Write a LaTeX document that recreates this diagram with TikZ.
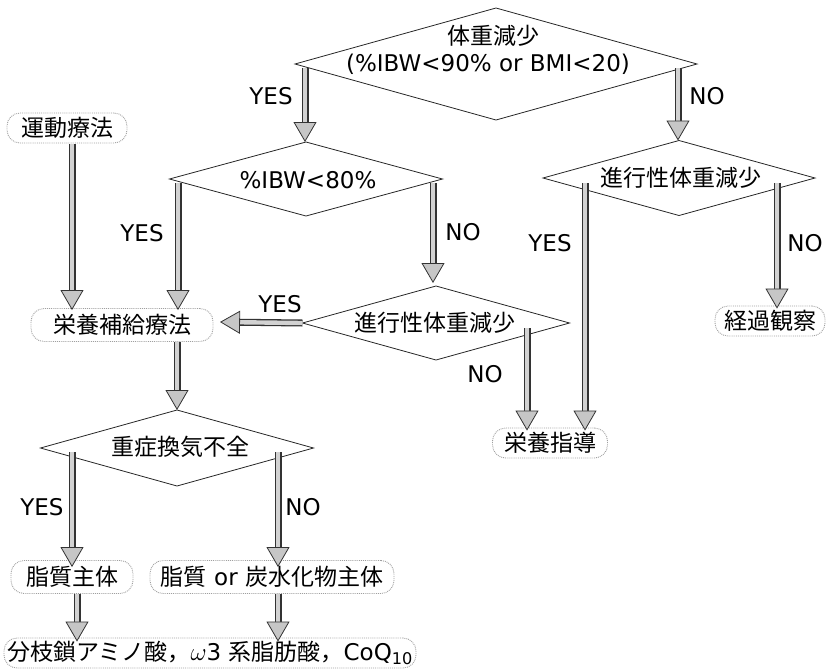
\documentclass[tikz,border=0pt]{standalone}
\usepackage{fontspec}
\setmainfont{DejaVu Sans}
\newfontfamily\jp{Noto Sans CJK JP}
\usetikzlibrary{shapes.geometric,arrows.meta,calc}
\begin{document}
\begin{tikzpicture}[x=1pt,y=-1pt,
 dia/.style={draw=black!85, line width=0.8pt, shape=diamond, inner sep=0pt, outer sep=0pt},
 jp/.style={font=\jp\fontsize{23}{26}\selectfont, inner sep=0pt},
 lat/.style={font=\fontsize{23}{26}\selectfont, inner sep=0pt},
 tbox/.style={draw=gray!75, densely dotted, line width=0.9pt, rounded corners=13pt, inner sep=0pt, minimum height=30pt, font=\jp\fontsize{23}{26}\selectfont},
 flow/.style={draw=gray!35, line width=0.6pt,
   -{Triangle[width=23pt,length=20pt,color=black!80,fill=gray!45,line width=0.8pt]},
   preaction={draw=black!80, line width=7pt, arrows=-, shorten >=12pt},
   preaction={draw=gray!35, line width=4.4pt, arrows=-, shorten >=11pt}},
]
\useasboundingbox (0,0) rectangle (826,670);

% diamonds
\node[dia, minimum width=402pt, minimum height=112pt] (d1) at (496,64) {};
\node[dia, minimum width=273pt, minimum height=74pt] (d2) at (306,179) {};
\node[dia, minimum width=267pt, minimum height=74pt] (d3) at (436,323) {};
\node[dia, minimum width=272pt, minimum height=75pt] (d4) at (679,178) {};
\node[dia, minimum width=273pt, minimum height=76pt] (d5) at (177,448) {};

% diamond texts
\node[jp] (t1a) at (493,36) {体重減少};
\node[lat] (t1b) at (488,64) {(\%IBW<90\% or BMI<20)};
\node[lat] (t2) at (308,180) {\%IBW<80\%};
\node[jp] (t3) at (435,323) {進行性体重減少};
\node[jp] (t4) at (681,178) {進行性体重減少};
\node[jp] (t5) at (180,447) {重症換気不全};

% boxes
\node[tbox, minimum width=120pt] (b1) at (67,128) {運動療法};
\node[tbox, minimum width=182pt, minimum height=33pt] (b2) at (122,325) {栄養補給療法};
\node[tbox, minimum width=115pt] (b3) at (550,443) {栄養指導};
\node[tbox, minimum width=110pt] (b4) at (770,321) {経過観察};
\node[tbox, minimum width=122pt, minimum height=33pt] (b5) at (72,577) {脂質主体};
\node[tbox, minimum width=244pt, minimum height=33pt] (b6) at (272,577) {脂質{\rmfamily\fontsize{23}{26}\selectfont{} or }炭水化物主体};
\node[tbox, minimum width=412pt] (b7) at (210,653) {分枝鎖アミノ酸，{\rmfamily\fontsize{23}{26}\selectfont$\omega$3 }系脂肪酸，{\rmfamily\fontsize{23}{26}\selectfont CoQ\textsubscript{10}}};

% connector coordinates
\coordinate (s1) at (305,68);
\coordinate (s2) at (678,68);
\coordinate (s3) at (72,144);
\coordinate (s4) at (178,183);
\coordinate (s5) at (433,183);
\coordinate (s7) at (527,328);
\coordinate (s8) at (585,183);
\coordinate (s9) at (777,183);
\coordinate (s11) at (72,452);
\coordinate (s12) at (278,452);
\coordinate (s13) at (77,594);
\coordinate (s14) at (278,594);
\coordinate (e6) at (220,322);

% connectors
\draw[flow] (s1) -- (s1 |- d2.north);
\draw[flow] (s2) -- (s2 |- d4.north);
\draw[flow] (s3) -- ([yshift=-2pt]s3 |- b2.north);
\draw[flow] (s4) -- ([yshift=-2pt]s4 |- b2.north);
\draw[flow] (s5) -- ([yshift=3pt]s5 |- d3.north);
\draw[flow] (d3.west) -- (e6);
\draw[flow] (s7) -- ([yshift=-3pt]s7 |- b3.north);
\draw[flow] (s8) -- ([yshift=-3pt]s8 |- b3.north);
\draw[flow] (s9) -- ([yshift=-3pt]s9 |- b4.north);
\draw[flow] (b2.south -| d5.north) -- (d5.north);
\draw[flow] (s11) -- ([yshift=-7pt]s11 |- b5.north);
\draw[flow] (s12) -- ([yshift=-7pt]s12 |- b6.north);
\draw[flow] (s13) -- ([yshift=-4pt]s13 |- b7.north);
\draw[flow] (s14) -- ([yshift=-4pt]s14 |- b7.north);

% YES / NO labels
\node[lat] (y1) at (271,96) {YES};
\node[lat] (n1) at (707,96) {NO};
\node[lat] (y2) at (142,233) {YES};
\node[lat] (n2) at (463,232) {NO};
\node[lat] (y3) at (280,304) {YES};
\node[lat] (n3) at (485,374) {NO};
\node[lat] (y4) at (550,243) {YES};
\node[lat] (n4) at (805,243) {NO};
\node[lat] (y5) at (42,507) {YES};
\node[lat] (n5) at (303,507) {NO};
\end{tikzpicture}
\end{document}
